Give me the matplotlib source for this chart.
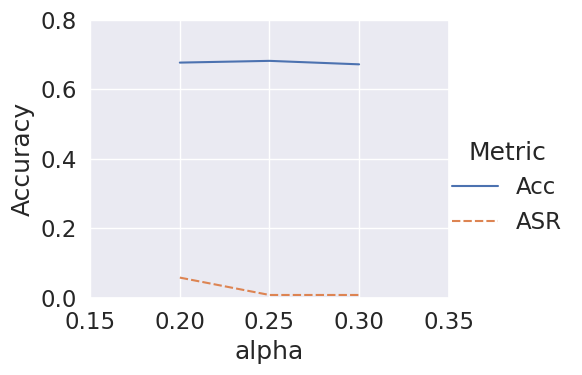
import pandas as pd
import seaborn as sns
from matplotlib import pyplot as plt

alpha = [0.20, 0.25, 0.30]
acc = [0.677, 0.682, 0.672]
asr = [0.058, 0.008, 0.008]

sns.set_theme(style="darkgrid", font_scale=1.5)

df = pd.DataFrame({
    "alpha": alpha * 2,
    "Accuracy": acc + asr,
    "Metric": ["Acc"] * len(alpha) + ["ASR"] * len(alpha),
})

fig = plt.figure(figsize=(5.82, 3.75), dpi=100)
ax = fig.add_axes([0.155, 0.206, 0.616, 0.741])
sns.lineplot(data=df, x="alpha", y="Accuracy", hue="Metric", style="Metric", ax=ax, legend=True)

ax.set_xlim(0.15, 0.35)
ax.set_ylim(0.0, 0.8)
ax.set_xticks([0.15, 0.20, 0.25, 0.30, 0.35])
ax.set_yticks([0.0, 0.2, 0.4, 0.6, 0.8])

handles, labels = ax.get_legend_handles_labels()
ax.get_legend().remove()
fig.legend(handles, labels, title="Metric", loc="center left",
           bbox_to_anchor=(0.741, 0.500), frameon=False)

fig.savefig("out.png", dpi=100)
